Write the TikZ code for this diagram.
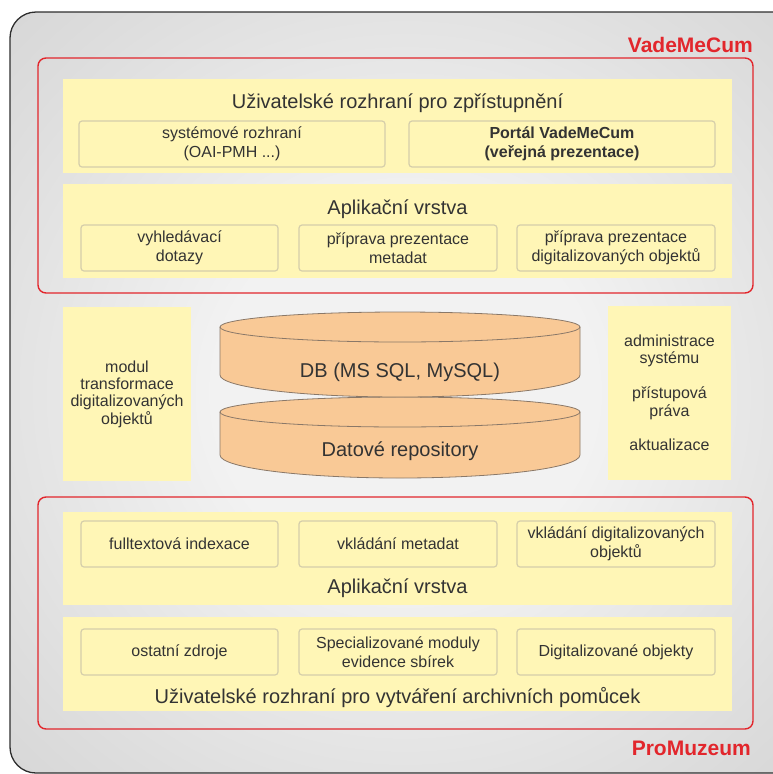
\documentclass[tikz,border=0pt]{standalone}
\usepackage{fontspec}
\setmainfont{Liberation Sans}
\definecolor{bgC}{HTML}{F2F2F2}
\definecolor{bgM}{HTML}{DDDDDD}
\definecolor{bgE}{HTML}{CDCDCD}
\definecolor{bgF}{HTML}{C6C6C6}
\definecolor{frameC}{HTML}{2E2E2E}
\definecolor{redC}{HTML}{E2262C}
\definecolor{panelY}{HTML}{FFF6B6}
\definecolor{boxB}{HTML}{D5CEAA}
\definecolor{cylF}{HTML}{F9C996}
\definecolor{cylD}{HTML}{8A7868}
\definecolor{txt}{HTML}{333333}
\pgfdeclareradialshading{bgshade}{\pgfpoint{0bp}{0bp}}{color(0bp)=(bgC); color(12bp)=(bgC); color(30bp)=(bgM); color(45bp)=(bgE); color(70bp)=(bgF); color(100bp)=(bgF)}
\tikzset{
  redframe/.style={draw=redC, line width=1.4pt, rounded corners=8pt, inner sep=0pt},
  panel/.style={fill=panelY, inner sep=0pt, minimum width=669pt},
  ibox/.style={fill=panelY, draw=boxB, line width=1.2pt, rounded corners=3pt, inner sep=0pt,
    minimum height=46pt, align=center, text=txt, font=\fontsize{16}{19}\selectfont},
  sidebox/.style={fill=panelY, inner sep=0pt, minimum height=174pt, align=center, text=txt,
    font=\fontsize{16}{17.4}\selectfont},
  ttl/.style={anchor=base, inner sep=0pt, text=txt, font=\fontsize{20}{24}\selectfont},
  brand/.style={anchor=base east, inner sep=0pt, text=redC, font=\fontsize{21}{25}\selectfont\bfseries},
  cyl/.style={fill=cylF, draw=cylD, line width=0.8pt},
  cylline/.style={draw=cylD, line width=0.8pt}
}
\begin{document}
\begin{tikzpicture}[x=1pt,y=-1pt]
\useasboundingbox (0,0) rectangle (772,774);
% outer frame
\shadedraw[shading=bgshade, draw=frameC, line width=1.3pt, rounded corners=26pt] (10,12) rectangle (800,773);

% ---------- VadeMeCum ----------
\node[redframe, minimum width=715pt, minimum height=235pt] (vmc) at (395.5,175.5) {};
\node[brand] (vmclabel) at (753,52) {VadeMeCum};

\node[panel, minimum height=94pt] (t1) at (397.5,126) {};
\node[ttl] (t1title) at (397.5,108) {Uživatelské rozhraní pro zpřístupnění};
\node[ibox, minimum width=306pt] (t1a) at (232,144) {systémové rozhraní\\(OAI-PMH ...)};
\node[ibox, minimum width=306pt] (t1b) at (562,144) {\bfseries Portál VadeMeCum\\\bfseries (veřejná prezentace)};

\node[panel, minimum height=94pt] (t2) at (397.5,231) {};
\node[ttl] (t2title) at (397.5,214) {Aplikační vrstva};
\node[ibox, minimum width=197pt] (t2a) at (179.5,248) {vyhledávací\\dotazy};
\node[ibox, minimum width=198pt] (t2b) at (398,248) {příprava prezentace\\metadat};
\node[ibox, minimum width=198pt] (t2c) at (616,248) {příprava prezentace\\digitalizovaných objektů};

% ---------- middle ----------
\node[sidebox, minimum width=128pt] (left) at (127,394) {modul\\transformace\\digitalizovaných\\objektů};
\node[sidebox, minimum width=123pt] (right) at (669.5,393) {administrace\\systému\\[17.4pt]přístupová\\práva\\[17.4pt]aktualizace};

% lower cylinder
\path[cyl] (220,412) -- (220,455) .. controls (220,467.7) and (300.6,478) .. (400,478)
  .. controls (499.4,478) and (580,467.7) .. (580,455) -- (580,412)
  .. controls (580,403.7) and (499.4,397) .. (400,397)
  .. controls (300.6,397) and (220,403.7) .. (220,412) -- cycle;
\draw[cylline] (220,412) .. controls (220,420.3) and (300.6,427) .. (400,427)
  .. controls (499.4,427) and (580,420.3) .. (580,412);
% upper cylinder
\path[cyl] (220,327) -- (220,375) .. controls (220,387.2) and (300.6,397) .. (400,397)
  .. controls (499.4,397) and (580,387.2) .. (580,375) -- (580,327)
  .. controls (580,318.7) and (499.4,312) .. (400,312)
  .. controls (300.6,312) and (220,318.7) .. (220,327) -- cycle;
\draw[cylline] (220,327) .. controls (220,335.3) and (300.6,342) .. (400,342)
  .. controls (499.4,342) and (580,335.3) .. (580,327);
\node[ttl] (db) at (400,377) {DB (MS SQL, MySQL)};
\node[ttl] (repo) at (400,456) {Datové repository};

% ---------- ProMuzeum ----------
\node[redframe, minimum width=715pt, minimum height=232pt] (pmz) at (395.5,613) {};
\node[brand] (pmzlabel) at (751,755) {ProMuzeum};

\node[panel, minimum height=93pt] (b1) at (397.5,558.5) {};
\node[ibox, minimum width=197pt] (b1a) at (179.5,544) {fulltextová indexace};
\node[ibox, minimum width=198pt] (b1b) at (398,544) {vkládání metadat};
\node[ibox, minimum width=198pt] (b1c) at (616,544) {vkládání digitalizovaných\\objektů};
\node[ttl] (b1title) at (397.5,593) {Aplikační vrstva};

\node[panel, minimum height=94pt] (b2) at (397.5,664) {};
\node[ibox, minimum width=197pt] (b2a) at (179.5,652) {ostatní zdroje};
\node[ibox, minimum width=198pt] (b2b) at (398,652) {Specializované moduly\\evidence sbírek};
\node[ibox, minimum width=198pt] (b2c) at (616,652) {Digitalizované objekty};
\node[ttl] (b2title) at (397.5,703) {Uživatelské rozhraní pro vytváření archivních pomůcek};
\end{tikzpicture}
\end{document}
